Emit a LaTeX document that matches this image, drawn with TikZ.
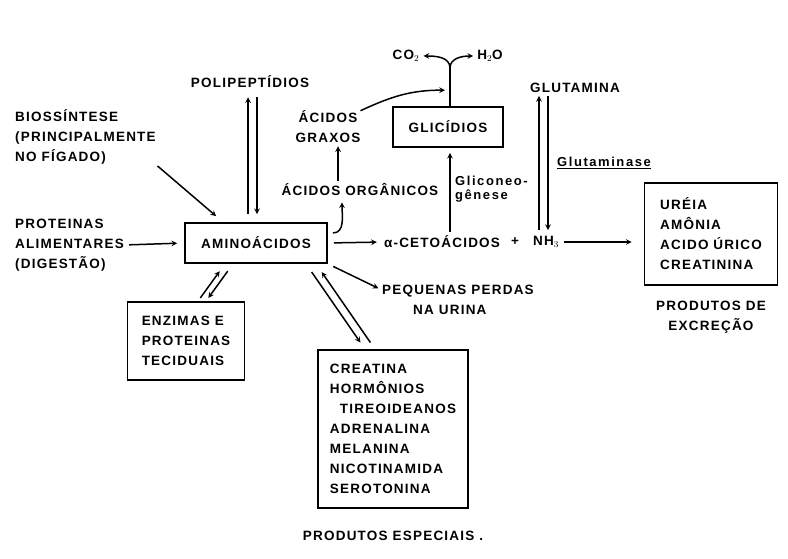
\documentclass[tikz,border=0pt]{standalone}
\usepackage{fontspec}
\setmainfont{Liberation Sans}
\newfontfamily\capfont[LetterSpace=9]{Liberation Sans}
\newfontfamily\notefont[LetterSpace=12]{Liberation Sans}
\usetikzlibrary{arrows, positioning}

\begin{document}
\begin{tikzpicture}[x=1pt, y=-1pt,
  term/.style={font=\capfont\fontsize{13.5}{20}\selectfont\bfseries, inner sep=0pt, align=left},
  box/.style={rectangle, draw=black, line width=1.7pt, font=\capfont\fontsize{13.5}{20}\selectfont\bfseries, align=left},
  note/.style={font=\notefont\fontsize{13}{13.5}\selectfont\bfseries, inner sep=0pt, align=left},
  line/.style={draw, ->, >=stealth, line width=1.5pt}]

  \useasboundingbox (0,0) rectangle (788,559);

  % left side
  \node [term] (poli) at (250,82) {POLIPEPTÍDIOS};
  \node [term, anchor=west] (bio) at (15,137) {BIOSSÍNTESE\\(PRINCIPALMENTE\\NO FÍGADO)};
  \node [term, anchor=west] (prot) at (15,245) {PROTEINAS\\ALIMENTARES\\(DIGESTÃO)};
  \node [box, minimum width=142pt, minimum height=40pt] (amino) at (256,243) {AMINOÁCIDOS};
  \node [box, minimum width=117pt, minimum height=78pt] (enz) at (186,341) {ENZIMAS E\\PROTEINAS\\TECIDUAIS};

  % middle
  \node [term, align=center] (graxos) at (328,127) {ÁCIDOS\\GRAXOS};
  \node [term] (organ) at (360,190) {ÁCIDOS ORGÂNICOS};
  \node [box, minimum width=110pt, minimum height=40pt] (glic) at (448,127) {GLICÍDIOS};
  \node [term] (co2) at (406,56) {CO$_2$};
  \node [term] (h2o) at (490,56) {H$_2$O};
  \coordinate (fork) at (450,68);
  \node [term] (ceto) at (442,242) {α-CETOÁCIDOS};
  \node [term] (plus) at (515,242) {+};
  \node [term] (nh) at (546,242) {NH$_3$};
  \node [note, anchor=west] (gliconeo) at (455,189) {Gliconeo-\\gênese};
  \node [term, anchor=west] (perdas) at (382,300) {PEQUENAS PERDAS\\\hspace*{31pt}NA URINA};
  \node [box, minimum width=150pt, minimum height=158pt] (esp) at (393,429)
    {CREATINA\\HORMÔNIOS\\\hspace*{10pt}TIREOIDEANOS\\ADRENALINA\\MELANINA\\NICOTINAMIDA\\SEROTONINA};
  \node [term, below=22pt of esp] (esptxt) {PRODUTOS ESPECIAIS .};

  % right side
  \node [term] (gluta) at (575,88) {GLUTAMINA};
  \node [note] (glutase) at (604,163) {\underline{Glutaminase}};
  \node [box, minimum width=133pt, minimum height=102pt] (excr) at (711,234) {URÉIA\\AMÔNIA\\ACIDO ÚRICO\\CREATININA};
  \node [term, align=center, below=15pt of excr] (excrtxt) {PRODUTOS DE\\EXCREÇÃO};

  % connectors
  \path [line, shorten <=5pt, shorten >=7pt] (prot.east) -- (amino.west);
  \path [line, shorten <=2pt] (bio.south east) -- ([shift={(32pt,6pt)}]amino.north west);
  \path [line, shorten <=8pt, shorten >=9pt] ([xshift=-8pt]amino.north) -- ([xshift=-8pt]amino.north |- poli.south);
  \path [line, shorten <=9pt, shorten >=8pt] ([xshift=1pt]amino.north |- poli.south) -- ([xshift=1pt]amino.north);
  \path [line] ([shift={(5pt,10pt)}]amino.east) to[out=0, in=-90] ([xshift=-18pt, yshift=-6pt]organ.south);
  \path [line, shorten <=3pt, shorten >=3pt] ([xshift=-22pt]organ.north) -- ([xshift=-22pt]organ.north |- graxos.south);
  \path [line] (graxos.north east) to[out=25, in=180] ([shift={(-3pt,16pt)}]glic.north);
  \draw [line width=1.5pt] ([xshift=2pt]glic.north) -- (fork);
  \path [line] (fork) to[out=90, in=0] ([xshift=4pt]co2.east);
  \path [line] (fork) to[out=90, in=180] ([xshift=-4pt]h2o.west);
  \path [line, shorten <=4pt, shorten >=5pt] ([xshift=8pt]ceto.north) -- ([xshift=8pt]ceto.north |- glic.south);
  \path [line, shorten <=6pt, shorten >=7pt] (amino.east) -- (ceto.west);
  \path [line, shorten <=6pt, shorten >=3pt] ([xshift=-7pt]nh.north) -- ([xshift=-7pt]nh.north |- gluta.south);
  \path [line, shorten <=3pt, shorten >=6pt] ([xshift=2pt]nh.north |- gluta.south) -- ([xshift=2pt]nh.north);
  \path [line, shorten <=5pt, shorten >=12pt] (nh.east) -- (nh.east -| excr.west);
  \path [line, shorten <=6pt, shorten >=4pt] (amino.south east) -- ([yshift=-5pt]perdas.north west);
  \path [line, shorten <=4pt, shorten >=9pt] ([xshift=12pt]enz.north) -- ([xshift=-31pt]amino.south);
  \path [line, shorten <=9pt, shorten >=4pt] ([xshift=-23pt]amino.south) -- ([xshift=20pt]enz.north);
  \path [line, shorten <=10pt, shorten >=8pt] ([xshift=50pt]amino.south) -- ([xshift=-28pt]esp.north);
  \path [line, shorten <=8pt, shorten >=10pt] ([xshift=-18pt]esp.north) -- ([xshift=60pt]amino.south);
\end{tikzpicture}
\end{document}
